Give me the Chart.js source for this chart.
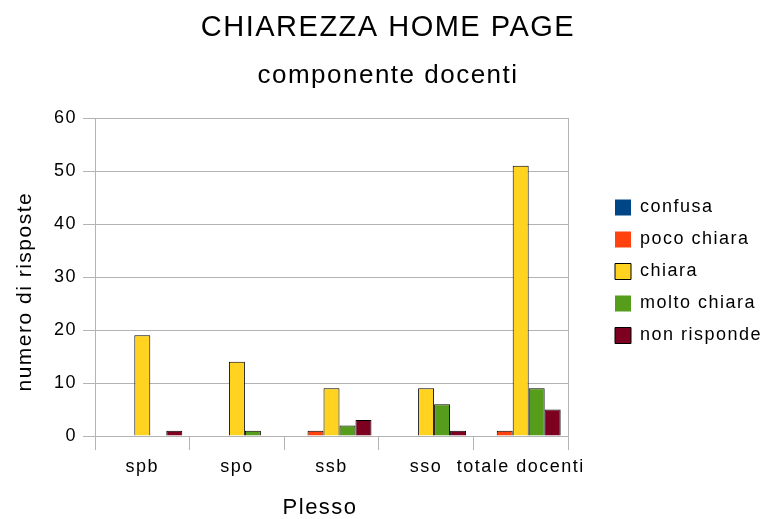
<!DOCTYPE html>
<html>
<head>
<meta charset="utf-8">
<script src="https://cdn.jsdelivr.net/npm/chart.js@4"></script>
<style>
  html, body { margin: 0; padding: 0; background: #fff; }
</style>
</head>
<body>
<canvas id="chiarezzaChart" width="767" height="519"></canvas>
<script>
// ===================== Dati =====================
const plessi = ['spb', 'spo', 'ssb', 'sso', 'totale docenti'];
const confusa = [0, 0, 0, 0, 0];
const pocoChiara = [0, 0, 1, 0, 1];
const chiara = [19, 14, 9, 9, 51];
const moltoChiara = [0, 1, 2, 6, 9];
const nonRisponde = [1, 0, 3, 1, 5];
const yTicks = [0, 10, 20, 30, 40, 50, 60];

const gridColor = '#b3b3b3';
const font = 'Liberation Sans';
const nbsp = '\u00a0';

function serie(label, data, color) {
  return {
    label: label,
    data: data,
    backgroundColor: color,
    borderColor: '#000',
    borderWidth: c => (c.raw === 0 ? 0 : 1),
    barPercentage: 1,
    categoryPercentage: 0.845
  };
}

// testo un po' spaziato, come nell'originale
const spaziatura = {
  id: 'spaziatura',
  beforeUpdate(chart) { chart.ctx.letterSpacing = '1.5px'; },
  beforeDraw(chart) { chart.ctx.letterSpacing = '1.5px'; }
};

// larghezza fissa per la legenda a destra
const legendaLarga = {
  id: 'legendaLarga',
  beforeInit(chart) {
    const fit = chart.legend.fit;
    chart.legend.fit = function () {
      fit.call(this);
      this.width = 166;
    };
  }
};

// ===================== Grafico =====================
const ctx = document.getElementById('chiarezzaChart').getContext('2d');

new Chart(ctx, {
  type: 'bar',
  data: {
    labels: plessi,
    datasets: [
      serie('confusa', confusa, '#004586'),
      serie('poco chiara', pocoChiara, '#ff420e'),
      serie('chiara', chiara, '#ffd320'),
      serie('molto chiara', moltoChiara, '#579d1c'),
      serie('non risponde', nonRisponde, '#7e0021')
    ]
  },
  plugins: [spaziatura, legendaLarga],
  options: {
    responsive: false,
    animation: false,
    layout: { padding: { left: 9, right: 0, top: 4, bottom: 0 } },
    plugins: {
      title: {
        display: true,
        text: 'CHIAREZZA HOME PAGE',
        color: '#000',
        font: { family: font, size: 29, weight: 'normal' },
        padding: { top: 7, bottom: 8 }
      },
      subtitle: {
        display: true,
        text: 'componente docenti',
        color: '#000',
        font: { family: font, size: 26, weight: 'normal' },
        padding: { top: 6, bottom: 27 }
      },
      legend: {
        position: 'right',
        title: { display: true, text: ' ', font: { size: 10, lineHeight: 2 }, padding: 0 },
        labels: {
          color: '#000',
          font: { family: font, size: 18 },
          boxWidth: 16,
          boxHeight: 16,
          padding: 14
        }
      },
      tooltip: { enabled: false }
    },
    scales: {
      x: {
        grid: {
          offset: true,
          drawOnChartArea: false,
          color: gridColor,
          tickLength: 14
        },
        border: { color: gridColor },
        ticks: {
          color: '#000',
          font: { family: font, size: 18 },
          padding: 6,
          autoSkip: false,
          maxRotation: 0
        },
        title: {
          display: true,
          text: 'Plesso' + nbsp.repeat(3),
          color: '#000',
          font: { family: font, size: 22 },
          padding: { top: 11, bottom: -2 }
        }
      },
      y: {
        min: 0,
        max: 60,
        afterBuildTicks: s => { s.ticks = yTicks.map(v => ({ value: v })); },
        grid: { color: gridColor, tickLength: 12 },
        border: { color: gridColor },
        ticks: {
          color: '#000',
          font: { family: font, size: 18 },
          padding: 6
        },
        title: {
          display: true,
          text: 'numero di risposte' + nbsp.repeat(4),
          color: '#000',
          font: { family: font, size: 21 },
          padding: { top: 4, bottom: 4 }
        },
        afterFit: s => { s.width = 86; }
      },
      y2: {
        position: 'right',
        min: 0,
        max: 60,
        grid: { display: false },
        border: { color: gridColor },
        ticks: { display: false },
        afterFit: s => { s.width = 33; }
      }
    }
  }
});
</script>
</body>
</html>
